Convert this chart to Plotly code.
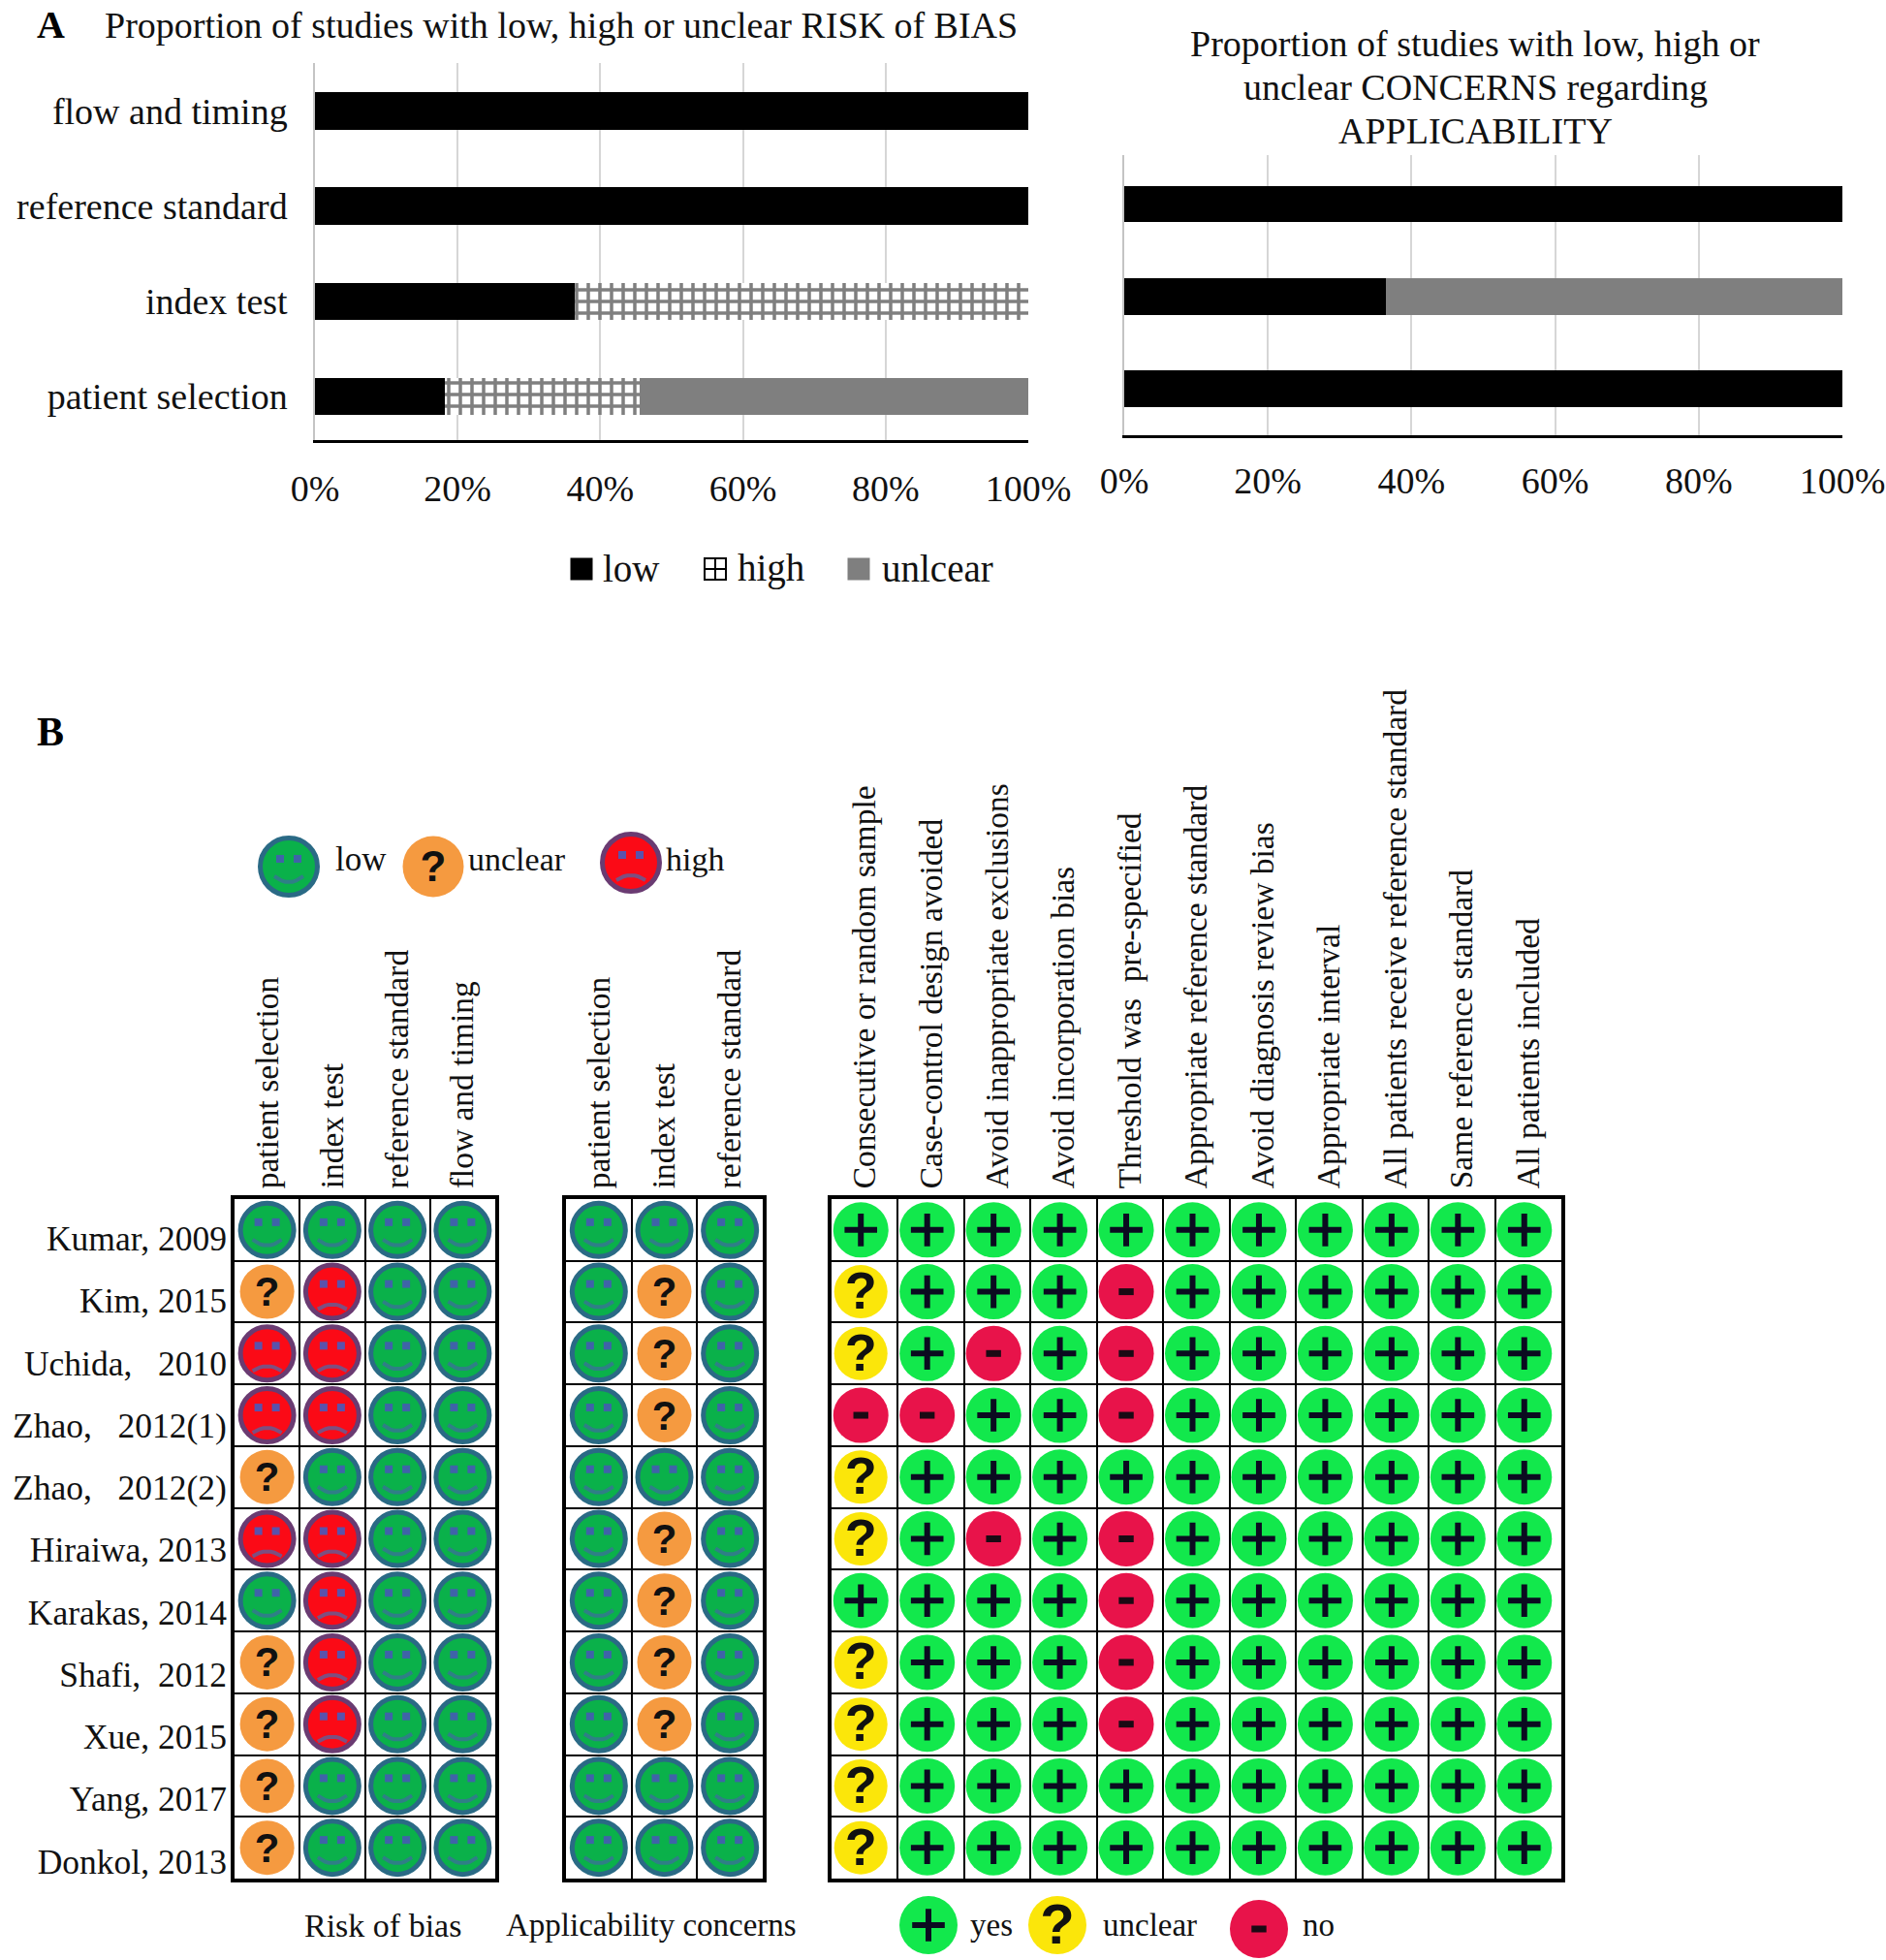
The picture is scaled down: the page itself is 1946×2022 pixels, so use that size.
import numpy as np
import plotly.graph_objects as go

W, H = 1946, 2022
SERIF = "Liberation Serif"
SANS = "Liberation Sans"

# ---- Panel A data (percent of studies) ----
risk_domains = ["patient selection", "index test", "reference standard", "flow and timing"]
risk_low = [18.2, 36.4, 100, 100]
risk_high = [27.3, 63.6, 0, 0]
risk_unclear = [54.5, 0, 0, 0]

appl_domains = ["patient selection", "index test", "reference standard"]
appl_low = [100, 36.4, 100]
appl_high = [0, 0, 0]
appl_unclear = [0, 63.6, 0]

pct_ticks = [0, 20, 40, 60, 80, 100]

# ---- Panel B data ----
NB = "\u00a0"
studies = ["Kumar, 2009", "Kim, 2015", f"Uchida,{NB*3}2010", f"Zhao,{NB*3}2012(1)", f"Zhao,{NB*3}2012(2)",
           "Hiraiwa, 2013", "Karakas, 2014", f"Shafi,{NB*2}2012", "Xue, 2015", "Yang, 2017", "Donkol, 2013"]
risk_cols = ["patient selection", "index test", "reference standard", "flow and timing"]
appl_cols = ["patient selection", "index test", "reference standard"]
signal_cols = ["Consecutive or random sample", "Case-control design avoided", "Avoid inappropriate exclusions",
               "Avoid incorporation bias", f"Threshold was{NB*2}pre-specified", "Appropriate reference standard",
               "Avoid diagnosis review bias", "Appropriate interval", "All patients receive reference standard",
               "Same reference standard", "All patients included"]
# L low, U unclear, H high
risk_rows = ["LLLL", "UHLL", "HHLL", "HHLL", "ULLL", "HHLL", "LHLL", "UHLL", "UHLL", "ULLL", "ULLL"]
appl_rows = ["LLL", "LUL", "LUL", "LUL", "LLL", "LUL", "LUL", "LUL", "LUL", "LLL", "LLL"]
# Y yes, U unclear, N no
signal_rows = ["YYYYYYYYYYY", "UYYYNYYYYYY", "UYNYNYYYYYY", "NNYYNYYYYYY", "UYYYYYYYYYY", "UYNYNYYYYYY",
               "YYYYNYYYYYY", "UYYYNYYYYYY", "UYYYNYYYYYY", "UYYYYYYYYYY", "UYYYYYYYYYY"]

C_LOW, C_LOW_EDGE, C_LOW_FEAT = "#0ab14a", "#2a6a85", "#2f7f86"
C_HIGH, C_HIGH_EDGE, C_HIGH_FEAT = "#fb0a16", "#6a3b72", "#7d4f80"
C_ORANGE = "#f59a40"
C_YES, C_Q, C_NO = "#12e84c", "#fbe60a", "#e8134a"
C_UNCLEAR_BAR, GRID = "#7f7f7f", "#d6d6d6"


def dx(px0, px1):
    return [px0 / W, px1 / W]


def dy(top, bottom):
    return [1 - bottom / H, 1 - top / H]


fig = go.Figure()


# ---- Panel A bars ----
def add_bars(names, low, high, unclear, xa, ya):
    fig.add_bar(y=names, x=low, orientation="h", name="low", xaxis=xa, yaxis=ya, showlegend=False,
                marker=dict(color="#000000", line_width=0))
    fig.add_bar(y=names, x=high, orientation="h", name="high", xaxis=xa, yaxis=ya, showlegend=False,
                marker=dict(color="#ffffff", line_width=0,
                            pattern=dict(shape="+", fgcolor="#000000", bgcolor="#ffffff", size=12, solidity=0.5)))
    fig.add_bar(y=names, x=unclear, orientation="h", name="unlcear", xaxis=xa, yaxis=ya, showlegend=False,
                marker=dict(color=C_UNCLEAR_BAR, line_width=0))


add_bars(risk_domains, risk_low, risk_high, risk_unclear, "x", "y")
add_bars(appl_domains, appl_low, appl_high, appl_unclear, "x2", "y2")


# ---- Panel B symbols ----
def cells_of(rows, code, shift=0.0):
    xs, ys = [], []
    for r, row in enumerate(rows):
        for c, s in enumerate(row):
            if s == code:
                xs.append(c + shift)
                ys.append(r)
    return xs, ys


def add_face(xs, ys, xa, ya, ux, uy, fill, edge, feat, eye, smile, name, size=55):
    fig.add_scatter(x=xs, y=ys, xaxis=xa, yaxis=ya, mode="markers", name=name, showlegend=False, cliponaxis=False,
                    marker=dict(size=size, color=fill, line=dict(color=edge, width=5)))
    ex, ey = [], []
    for x, y in zip(xs, ys):
        ex += [x - 9 * ux, x + 9 * ux]
        ey += [y - 8 * uy, y - 8 * uy]
    fig.add_scatter(x=ex, y=ey, xaxis=xa, yaxis=ya, mode="markers", showlegend=False, cliponaxis=False,
                    name=name + " eyes", marker=dict(size=8, color=eye, symbol="square"))
    t = np.linspace(-1, 1, 9)
    off = (10 + 6 * (1 - t ** 2)) if smile else (18 - 5 * (1 - t ** 2))
    mx, my = [], []
    for x, y in zip(xs, ys):
        mx += list(x + 15 * t * ux) + [None]
        my += list(y + off * uy) + [None]
    fig.add_scatter(x=mx, y=my, xaxis=xa, yaxis=ya, mode="lines", showlegend=False, cliponaxis=False,
                    name=name + " mouth", line=dict(color=feat, width=4))


def add_q(xs, ys, xa, ya, uy, fill, tsize, name, size=56):
    fig.add_scatter(x=xs, y=ys, xaxis=xa, yaxis=ya, mode="markers", name=name, showlegend=False,
                    cliponaxis=False, marker=dict(size=size, color=fill, line_width=0))
    fig.add_scatter(x=xs, y=[v + 4 * uy for v in ys], xaxis=xa, yaxis=ya, mode="text", name=name + " sign",
                    showlegend=False, cliponaxis=False, text=["?"] * len(xs), textposition="middle center",
                    textfont=dict(family=SANS, size=tsize, color="#111111", weight="bold"))


def add_yes(xs, ys, xa, ya, name, size=57):
    fig.add_scatter(x=xs, y=ys, xaxis=xa, yaxis=ya, mode="markers", name=name, showlegend=False, cliponaxis=False,
                    marker=dict(size=size, color=C_YES, line_width=0))
    fig.add_scatter(x=xs, y=ys, xaxis=xa, yaxis=ya, mode="markers", name=name + " sign", showlegend=False,
                    cliponaxis=False,
                    marker=dict(size=24, symbol="cross-thin", line=dict(color="#0b0b20", width=6)))


def add_no(xs, ys, xa, ya, name, size=57):
    fig.add_scatter(x=xs, y=ys, xaxis=xa, yaxis=ya, mode="markers", name=name, showlegend=False, cliponaxis=False,
                    marker=dict(size=size, color=C_NO, line_width=0))
    fig.add_scatter(x=xs, y=ys, xaxis=xa, yaxis=ya, mode="markers", name=name + " sign", showlegend=False,
                    cliponaxis=False,
                    marker=dict(size=11, symbol="line-ew", line=dict(color="#1a0a14", width=7)))


def add_qualitative(rows, xa, ya, ux, uy):
    x, y = cells_of(rows, "L")
    add_face(x, y, xa, ya, ux, uy, C_LOW, C_LOW_EDGE, C_LOW_FEAT, "#3f63a8", True, "low")
    x, y = cells_of(rows, "H")
    if x:
        add_face(x, y, xa, ya, ux, uy, C_HIGH, C_HIGH_EDGE, C_HIGH_FEAT, "#5a52ac", False, "high")
    x, y = cells_of(rows, "U")
    add_q(x, y, xa, ya, uy, C_ORANGE, 42, "unclear")


T_TOP, T_BOT = 1237, 1938
cell_h = (T_BOT - T_TOP) / 11
T1 = (242, 511)
T2 = (584, 787)
T3 = (858, 1611)
sig_shift = -4 / ((T3[1] - T3[0]) / 11)

add_qualitative(risk_rows, "x3", "y3", 1 / ((T1[1] - T1[0]) / 4), 1 / cell_h)
add_qualitative(appl_rows, "x4", "y4", 1 / ((T2[1] - T2[0]) / 3), 1 / cell_h)

x, y = cells_of(signal_rows, "Y", sig_shift)
add_yes(x, y, "x5", "y5", "yes")
x, y = cells_of(signal_rows, "U", sig_shift)
add_q(x, y, "x5", "y5", 1 / cell_h, C_Q, 54, "unclear", size=55)
x, y = cells_of(signal_rows, "N", sig_shift)
add_no(x, y, "x5", "y5", "no")

# ---- Key icons, on a pixel-scaled hidden overlay axis ----
fig.add_scatter(x=[600], y=[587], xaxis="x6", yaxis="y6", mode="markers", name="key low bar", showlegend=False,
                marker=dict(size=23, symbol="square", color="#000000"))
fig.add_scatter(x=[738], y=[587], xaxis="x6", yaxis="y6", mode="markers", name="key high bar", showlegend=False,
                marker=dict(size=22, symbol="square-cross-open", color="#000000", line=dict(color="#000000", width=2)))
fig.add_scatter(x=[886], y=[587], xaxis="x6", yaxis="y6", mode="markers", name="key unclear bar", showlegend=False,
                marker=dict(size=23, symbol="square", color=C_UNCLEAR_BAR))
add_face([298], [894], "x6", "y6", 1, 1, C_LOW, C_LOW_EDGE, C_LOW_FEAT, "#3f63a8", True, "key low", size=59)
add_q([447], [894], "x6", "y6", 1, C_ORANGE, 44, "key unclear", size=63)
add_face([651], [890], "x6", "y6", 1, 1, C_HIGH, C_HIGH_EDGE, C_HIGH_FEAT, "#5a52ac", False, "key high", size=59)
add_yes([958], [1986], "x6", "y6", "key yes", size=60)
add_q([1091], [1986], "x6", "y6", 1, C_Q, 58, "key unclear 2", size=60)
add_no([1299], [1990], "x6", "y6", "key no", size=60)


# ---- Axes ----
def pct_axis(domain, anchor, standoff):
    return dict(domain=domain, anchor=anchor, range=[0, 100], tickmode="array", tickvals=pct_ticks,
                ticktext=[f"{v}%" for v in pct_ticks], showgrid=True, gridcolor=GRID, gridwidth=1.5,
                zeroline=False, showline=True, linecolor="#000000", linewidth=2.5, ticks="outside",
                ticklen=standoff, tickcolor="rgba(0,0,0,0)", tickfont=dict(family=SERIF, size=38, color="#111111"))


def cat_axis(domain, anchor, labels, show, rng):
    return dict(domain=domain, anchor=anchor, type="category", categoryorder="array", categoryarray=labels,
                range=rng, showgrid=False, showline=True, linecolor="#c4c4c4", linewidth=1.5, showticklabels=show,
                ticks="outside", ticklen=19, tickcolor="rgba(0,0,0,0)",
                tickfont=dict(family=SERIF, size=38, color="#111111"))


def table_x(px, labels, anchor):
    return dict(domain=dx(*px), anchor=anchor, side="top", range=[-0.5, len(labels) - 0.5], tickmode="array",
                tickvals=list(range(len(labels))), ticktext=labels, tickangle=-90, showgrid=False, zeroline=False,
                ticks="", showline=True, mirror=True, linecolor="#000000", linewidth=4,
                tickfont=dict(family=SERIF, size=33.5, color="#111111"),
                minor=dict(tickmode="linear", tick0=0.5, dtick=1, showgrid=True, gridcolor="#000000",
                           gridwidth=2, ticks=""))


def table_y(anchor, show):
    return dict(domain=dy(T_TOP, T_BOT), anchor=anchor, range=[10.5, -0.5], tickmode="array",
                tickvals=[i + 0.14 + 0.008 * i for i in range(11)], ticktext=studies, showticklabels=show,
                showgrid=False, zeroline=False,
                ticks="", ticklabelstandoff=-3, showline=True, mirror=True, linecolor="#000000", linewidth=4,
                tickfont=dict(family=SERIF, size=35.5, color="#111111"),
                minor=dict(tickmode="linear", tick0=0.5, dtick=1, showgrid=True, gridcolor="#000000",
                           gridwidth=2, ticks=""))


def txt(x, y, s, size=32, bold=False, xanchor="center"):
    return dict(x=x / W, y=1 - y / H, xref="paper", yref="paper", text=s, showarrow=False, xanchor=xanchor,
                yanchor="middle", align="center",
                font=dict(family=SERIF, size=size, color="#000000" if bold else "#111111",
                          weight="bold" if bold else "normal"))


annotations = [
    txt(52, 26, "A", 40, True),
    txt(52, 755, "B", 42, True),
    txt(579, 26, "Proportion of studies with low, high or unclear RISK of BIAS", 38),
    txt(1522, 45, "Proportion of studies with low, high or", 38),
    txt(1522, 90, "unclear CONCERNS regarding", 38),
    txt(1522, 135, "APPLICABILITY", 38),
    txt(651, 586, "low", 39),
    txt(795, 586, "high", 39),
    txt(967, 586, "unlcear", 39),
    txt(372, 886, "low", 35),
    txt(533, 886, "unclear", 34),
    txt(717, 886, "high", 34),
    txt(395, 1986, "Risk of bias", 34),
    txt(672, 1986, "Applicability concerns", 33),
    txt(1023, 1986, "yes", 33),
    txt(1186, 1986, "unclear", 33),
    txt(1360, 1986, "no", 33),
]

fig.update_layout(
    width=W, height=H, autosize=False, margin=dict(l=0, r=0, t=0, b=0, autoexpand=False), paper_bgcolor="#ffffff",
    plot_bgcolor="rgba(0,0,0,0)", barmode="stack", bargap=0.605, hovermode=False, showlegend=False,
    font=dict(family=SERIF, color="#111111"),
    annotations=annotations,
    xaxis=pct_axis(dx(325, 1061), "y", 15),
    yaxis=cat_axis(dy(65, 454), "x", risk_domains, True, [-0.46, 3.508]),
    xaxis2=pct_axis(dx(1160, 1901), "y2", 12),
    yaxis2=cat_axis(dy(160, 449), "x2", appl_domains, False, [-0.5, 2.53]),
    xaxis3=table_x(T1, risk_cols, "y3"),
    yaxis3=table_y("x3", True),
    xaxis4=table_x(T2, appl_cols, "y4"),
    yaxis4=table_y("x4", False),
    xaxis5=table_x(T3, signal_cols, "y5"),
    yaxis5=table_y("x5", False),
    xaxis6=dict(domain=[0, 1], anchor="y6", range=[0, W], visible=False, fixedrange=True),
    yaxis6=dict(domain=[0, 1], anchor="x6", range=[H, 0], visible=False, fixedrange=True),
)

fig.write_html("out.html", config={"displayModeBar": False},
               post_script="document.body.style.margin='0';document.body.style.overflow='hidden';")
